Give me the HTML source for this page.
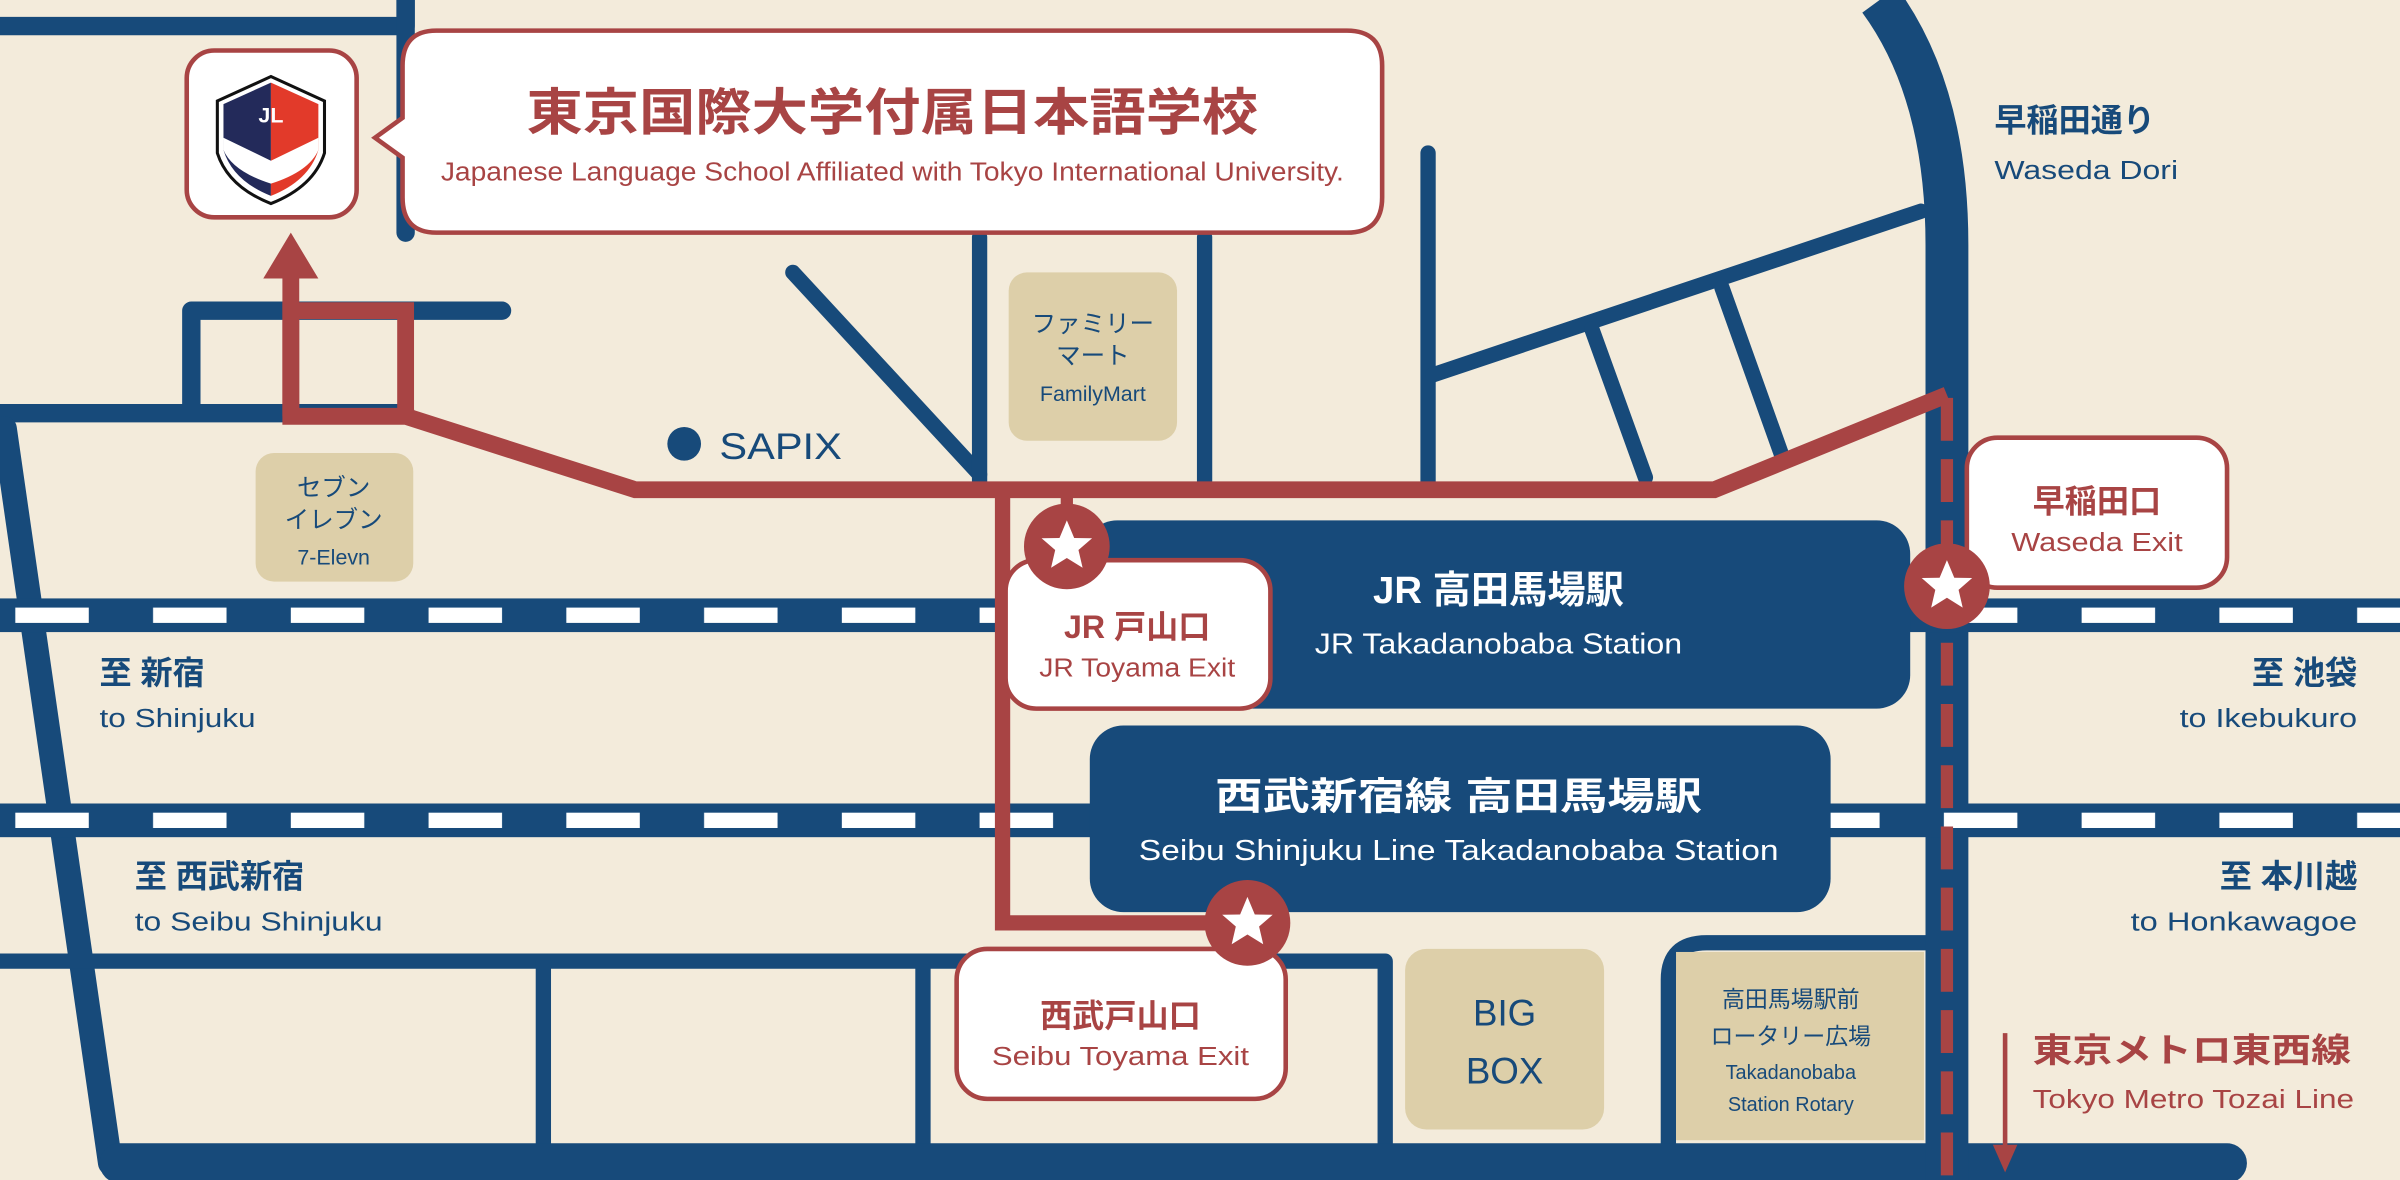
<!DOCTYPE html>
<html><head><meta charset="utf-8">
<style>
html,body{margin:0;padding:0;background:#f3ebdb;}
svg{display:block;}
text{font-family:"Liberation Sans","Noto Sans CJK JP",sans-serif;}
</style></head>
<body>
<svg width="2400" height="1180" viewBox="0 0 1568 771" preserveAspectRatio="none" xmlns="http://www.w3.org/2000/svg">
<defs>
<pattern id="dash" x="0" y="0" width="90" height="10" patternUnits="userSpaceOnUse">
<rect x="10" y="0" width="48" height="10" fill="#fff"/>
</pattern>
</defs>
<rect width="1568" height="771" fill="#f3ebdb"/>
<g stroke="#174a7a" fill="none" stroke-linecap="round" stroke-linejoin="round">
<!-- top left roads -->
<path d="M0,17 H265 V0" stroke-width="12"/>
<path d="M265,0 V152" stroke-width="12"/>
<path d="M125,268 V203 H328" stroke-width="12"/>
<path d="M0,270 H265" stroke-width="12"/>
<path d="M3,280 L72,760" stroke-width="16"/>
<!-- middle roads -->
<path d="M518,178 L640,310" stroke-width="10"/>
<path d="M640,155 V320" stroke-width="10"/>
<path d="M787,155 V320" stroke-width="10"/>
<path d="M933,100 V318" stroke-width="10"/>
<path d="M936,245 L1255,138" stroke-width="10"/>
<path d="M1040,215 L1075,312" stroke-width="10"/>
<path d="M1125,188 L1165,300" stroke-width="10"/>
<!-- bottom roads -->
<path d="M0,628 H905 V760" stroke-width="10"/>
<path d="M355,628 V760" stroke-width="10"/>
<path d="M603,628 V760" stroke-width="10"/>
<path d="M1090,760 V640 Q1090,616 1115,616 H1260" stroke-width="10"/>
<path d="M78,760 H1455" stroke-width="26"/>
<!-- right curved road -->
<path d="M1228,0 Q1272,60 1272,160 V771" stroke-width="28" stroke-linecap="butt"/>
</g>
<!-- rails -->
<rect x="0" y="391" width="1568" height="22" fill="#174a7a"/>
<rect x="0" y="397" width="1568" height="10" fill="url(#dash)"/>
<rect x="0" y="525" width="1568" height="22" fill="#174a7a"/>
<rect x="0" y="531" width="1568" height="10" fill="url(#dash)"/>
<!-- tan boxes -->
<rect x="1095" y="622" width="162" height="123" fill="#ddcfa9"/>
<rect x="918" y="620" width="130" height="118" rx="14" fill="#ddcfa9"/>
<rect x="167" y="296" width="103" height="84" rx="12" fill="#ddcfa9"/>
<rect x="659" y="178" width="110" height="110" rx="12" fill="#ddcfa9"/>
<!-- stations -->
<rect x="708" y="340" width="540" height="123" rx="22" fill="#174a7a"/>
<rect x="712" y="474" width="484" height="122" rx="22" fill="#174a7a"/>
<!-- red route -->
<g stroke="#a84444" fill="none" stroke-linejoin="miter">
<path d="M1272,258 L1120,320 H415 L265,272 H190 V175" stroke-width="11"/>
<path d="M190,272 V203 H265 V272" stroke-width="11"/>
<path d="M655,320 V603 H815" stroke-width="10"/>
<path d="M697,320 V357" stroke-width="8"/>
<path d="M1272,260 V771" stroke-width="8" stroke-dasharray="28,12"/>
<path d="M1310,675 V752" stroke-width="3"/>
</g>
<polygon points="190,152 172,182 208,182" fill="#a84444"/>
<polygon points="1310,766 1302,748 1318,748" fill="#a84444"/>
<!-- bubbles -->
<g fill="#fff" stroke="#a84444" stroke-width="3">
<rect x="122" y="33" width="111" height="109" rx="18"/>
<path d="M285,20 H880 Q903,20 903,43 V129 Q903,152 880,152 H285 Q263,152 263,129 V103 L245,90 L263,77 V43 Q263,20 285,20 Z"/>
<rect x="657" y="366" width="173" height="97" rx="20"/>
<rect x="625" y="620" width="215" height="98" rx="20"/>
<rect x="1285" y="286" width="170" height="98" rx="20"/>
</g>
<!-- logo -->
<g>
<path d="M177,50 L212,66 L212,100 Q205,122 177,133 Q149,122 142,100 L142,66 Z" fill="#fff" stroke="#111" stroke-width="2"/>
<path d="M177,54 L146,68 L146,98 Q152,118 177,128 Z" fill="#232a5a"/>
<path d="M177,54 L208,68 L208,98 Q202,118 177,128 Z" fill="#e23a2a"/>
<path d="M146,90 L177,105 L208,90 L208,98 Q202,112 177,120 Q152,112 146,98 Z" fill="#fff"/>
<text x="177" y="80" font-size="14" font-weight="bold" fill="#fff" text-anchor="middle" font-family="Liberation Serif,serif">JL</text>
</g>
<!-- stars -->
<g fill="#a84444">
<circle cx="697" cy="357" r="28"/>
<circle cx="1272" cy="383" r="28"/>
<circle cx="815" cy="603" r="28"/>
</g>
<g fill="#fff">
<polygon transform="translate(697,357)" points="0,-17 4.8,-5.5 16.5,-5.3 7.6,2.4 10.3,14 0,7.6 -10.3,14 -7.6,2.4 -16.5,-5.3 -4.8,-5.5"/>
<polygon transform="translate(1272,383)" points="0,-17 4.8,-5.5 16.5,-5.3 7.6,2.4 10.3,14 0,7.6 -10.3,14 -7.6,2.4 -16.5,-5.3 -4.8,-5.5"/>
<polygon transform="translate(815,603)" points="0,-17 4.8,-5.5 16.5,-5.3 7.6,2.4 10.3,14 0,7.6 -10.3,14 -7.6,2.4 -16.5,-5.3 -4.8,-5.5"/>
</g>
<circle cx="447" cy="290" r="11" fill="#174a7a"/>
<!-- texts -->
<g fill="#a84444" text-anchor="middle">
<text x="583" y="85" font-size="33" font-weight="bold" textLength="478" lengthAdjust="spacingAndGlyphs">東京国際大学付属日本語学校</text>
<text x="583" y="118" font-size="17" textLength="590" lengthAdjust="spacingAndGlyphs">Japanese Language School Affiliated with Tokyo International University.</text>
<text x="743" y="417" font-size="21" font-weight="bold">JR 戸山口</text>
<text x="743" y="442" font-size="17" textLength="128" lengthAdjust="spacingAndGlyphs">JR Toyama Exit</text>
<text x="732" y="671" font-size="21" font-weight="bold">西武戸山口</text>
<text x="732" y="696" font-size="17" textLength="168" lengthAdjust="spacingAndGlyphs">Seibu Toyama Exit</text>
<text x="1370" y="335" font-size="21" font-weight="bold">早稲田口</text>
<text x="1370" y="360" font-size="17" textLength="112" lengthAdjust="spacingAndGlyphs">Waseda Exit</text>
</g>
<g fill="#a84444">
<text x="1328" y="694" font-size="22" font-weight="bold" textLength="208" lengthAdjust="spacingAndGlyphs">東京メトロ東西線</text>
<text x="1328" y="724" font-size="17" textLength="210" lengthAdjust="spacingAndGlyphs">Tokyo Metro Tozai Line</text>
</g>
<g fill="#fff" text-anchor="middle">
<text x="979" y="394" font-size="25" font-weight="bold">JR 高田馬場駅</text>
<text x="979" y="427" font-size="19" textLength="240" lengthAdjust="spacingAndGlyphs">JR Takadanobaba Station</text>
<text x="953" y="529" font-size="25" font-weight="bold" textLength="318" lengthAdjust="spacingAndGlyphs">西武新宿線 高田馬場駅</text>
<text x="953" y="562" font-size="19" textLength="418" lengthAdjust="spacingAndGlyphs">Seibu Shinjuku Line Takadanobaba Station</text>
</g>
<g fill="#174a7a">
<text x="470" y="300" font-size="24" textLength="80" lengthAdjust="spacingAndGlyphs">SAPIX</text>
<text x="65" y="447" font-size="21" font-weight="bold">至 新宿</text>
<text x="65" y="475" font-size="17" textLength="102" lengthAdjust="spacingAndGlyphs">to Shinjuku</text>
<text x="88" y="580" font-size="21" font-weight="bold">至 西武新宿</text>
<text x="88" y="608" font-size="17" textLength="162" lengthAdjust="spacingAndGlyphs">to Seibu Shinjuku</text>
<text x="1303" y="86" font-size="21" font-weight="bold">早稲田通り</text>
<text x="1303" y="117" font-size="17" textLength="120" lengthAdjust="spacingAndGlyphs">Waseda Dori</text>
</g>
<g fill="#174a7a" text-anchor="end">
<text x="1540" y="447" font-size="21" font-weight="bold">至 池袋</text>
<text x="1540" y="475" font-size="17" textLength="116" lengthAdjust="spacingAndGlyphs">to Ikebukuro</text>
<text x="1540" y="580" font-size="21" font-weight="bold">至 本川越</text>
<text x="1540" y="608" font-size="17" textLength="148" lengthAdjust="spacingAndGlyphs">to Honkawagoe</text>
</g>
<g fill="#174a7a" text-anchor="middle">
<text x="218" y="324" font-size="16">セブン</text>
<text x="218" y="345" font-size="16">イレブン</text>
<text x="218" y="369" font-size="14">7-Elevn</text>
<text x="714" y="217" font-size="16">ファミリー</text>
<text x="714" y="238" font-size="16">マート</text>
<text x="714" y="262" font-size="14">FamilyMart</text>
<text x="983" y="670" font-size="24">BIG</text>
<text x="983" y="708" font-size="24">BOX</text>
<text x="1170" y="658" font-size="15">高田馬場駅前</text>
<text x="1170" y="682" font-size="15">ロータリー広場</text>
<text x="1170" y="705" font-size="13">Takadanobaba</text>
<text x="1170" y="726" font-size="13">Station Rotary</text>
</g>
</svg>
</body></html>
